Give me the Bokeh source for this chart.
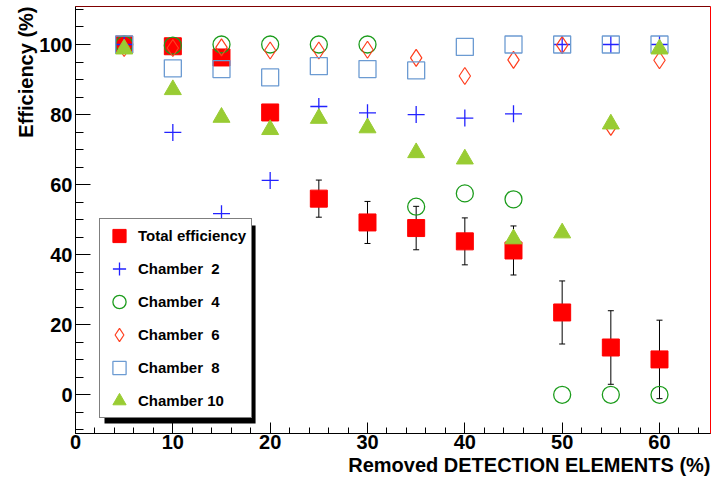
import numpy as np
from bokeh.plotting import figure
from bokeh.models import (ColumnDataSource, Range1d, SingleIntervalTicker, Legend, LegendItem,
                          Whisker, TeeHead, BoxAnnotation, Span, Title)
from bokeh.embed import file_html
from bokeh.resources import INLINE

# ---- data ----
removed = [5, 10, 15, 20, 25, 30, 35, 40, 45, 50, 55, 60]
total_eff = [100, 99.5, 96.3, 80.6, 56.0, 49.2, 47.6, 43.8, 41.2, 23.5, 13.5, 10.1]
total_err = [0.5, 1.0, 1.5, 2.0, 5.3, 6.0, 6.2, 6.7, 7.0, 9.0, 10.5, 11.2]
chamber2 = [100, 74.9, 51.7, 61.2, 82.3, 80.5, 80.0, 79.0, 80.2, 100, 100, 100]
chamber4 = [100, 99.7, 100, 100, 100, 100, 53.7, 57.5, 55.8, 0, 0, 0]
chamber6 = [99.0, 99.0, 99.2, 98.3, 98.3, 98.5, 96.2, 91.0, 95.6, 99.8, 76.5, 95.5]
chamber8 = [100, 93.2, 93.0, 90.6, 93.8, 93.0, 92.6, 99.3, 100, 100, 100, 100]
chamber10 = [98.7, 87.1, 79.2, 75.7, 78.9, 76.2, 69.1, 67.3, 44.5, 46.2, 77.3, 98.7]

legend_labels = ["Total efficiency", "Chamber  2", "Chamber  4", "Chamber  6", "Chamber  8", "Chamber 10"]
x_title = "Removed DETECTION ELEMENTS (%)"
y_title = "Efficiency (%)"

FONT = "Liberation Sans"
Y0, Y1 = -11.05, 110.85
X0, X1 = 0, 65.24

p = figure(width=714, height=479, x_range=Range1d(X0, X1), y_range=Range1d(Y0, Y1),
           output_backend="svg", toolbar_location=None,
           min_border_left=75, min_border_right=4, min_border_top=6, min_border_bottom=46)
p.background_fill_color = "white"
p.border_fill_color = "white"
p.grid.visible = False
p.outline_line_color = "red"
p.outline_line_width = 1

p.xaxis.ticker = SingleIntervalTicker(interval=10, num_minor_ticks=5)
p.yaxis.ticker = SingleIntervalTicker(interval=20, num_minor_ticks=4)
for ax in (p.xaxis[0], p.yaxis[0]):
    ax.major_tick_out = 0
    ax.minor_tick_out = 0
    ax.axis_line_color = "black"
    ax.major_tick_line_color = "black"
    ax.minor_tick_line_color = "black"
    ax.major_label_text_font = FONT
    ax.major_label_text_font_style = "bold"
    ax.major_label_text_font_size = "20px"
    ax.major_label_text_color = "black"
p.xaxis.major_tick_in = 11
p.xaxis.minor_tick_in = 6
p.yaxis.major_tick_in = 15
p.yaxis.minor_tick_in = 8
p.xaxis.major_label_standoff = 1
p.yaxis.major_label_standoff = 3

p.add_layout(Span(location=Y1, dimension="width", line_color="black", line_width=1))

src_total = ColumnDataSource(dict(
    x=removed, y=total_eff,
    upper=(np.array(total_eff) + np.array(total_err)).tolist(),
    lower=(np.array(total_eff) - np.array(total_err)).tolist()))

whisk = Whisker(base="x", upper="upper", lower="lower", source=src_total,
                line_color="black", line_width=1, level="underlay",
                upper_head=TeeHead(size=6, line_color="black", line_width=1),
                lower_head=TeeHead(size=6, line_color="black", line_width=1))
p.add_layout(whisk)

r_total = p.scatter("x", "y", source=src_total, marker="square", size=17,
                    fill_color="#ff0000", line_color="#ff0000")
r_c2 = p.scatter(removed, chamber2, marker="cross", size=17, line_color="#2222ff", line_width=1.3)
r_c4 = p.scatter(removed, chamber4, marker="circle", size=17, fill_color=None,
                 line_color="#1c9c1c", line_width=1.3)
r_c6 = p.scatter(removed, chamber6, marker="diamond", size=17, fill_color=None,
                 line_color="#ff3f1f", line_width=1.2)
r_c8 = p.scatter(removed, chamber8, marker="square", size=17, fill_color=None,
                 line_color="#6c9bd2", line_width=1.3)
r_c10 = p.scatter(removed, chamber10, marker="triangle", size=17,
                  fill_color="#99cc33", line_color="#99cc33")

# legend shadow (5 px offset of the legend box)
p.add_layout(BoxAnnotation(left=2.98, right=18.5, top=48.3, bottom=-8.18,
                           fill_color="black", fill_alpha=1.0, line_color=None))

renderers = [r_total, r_c2, r_c4, r_c6, r_c8, r_c10]
items = [LegendItem(label=lab, renderers=[r]) for lab, r in zip(legend_labels, renderers)]
legend = Legend(items=items, location=(24, 15), orientation="vertical",
                border_line_color="black", border_line_width=1,
                background_fill_color="white", background_fill_alpha=1.0,
                padding=0, spacing=0, glyph_width=38, glyph_height=33,
                label_height=20, label_standoff=0, label_width=113, margin=0,
                label_text_font=FONT, label_text_font_style="bold",
                label_text_font_size="15px", label_text_color="black")
p.add_layout(legend)

p.add_layout(Title(text=x_title, align="right", text_font=FONT, text_font_style="bold",
                   text_font_size="20px", text_color="black", standoff=0), "below")
p.add_layout(Title(text=y_title, align="right", text_font=FONT, text_font_style="bold",
                   text_font_size="20px", text_color="black", standoff=0), "left")

open("out.html", "w").write(file_html(p, INLINE))
